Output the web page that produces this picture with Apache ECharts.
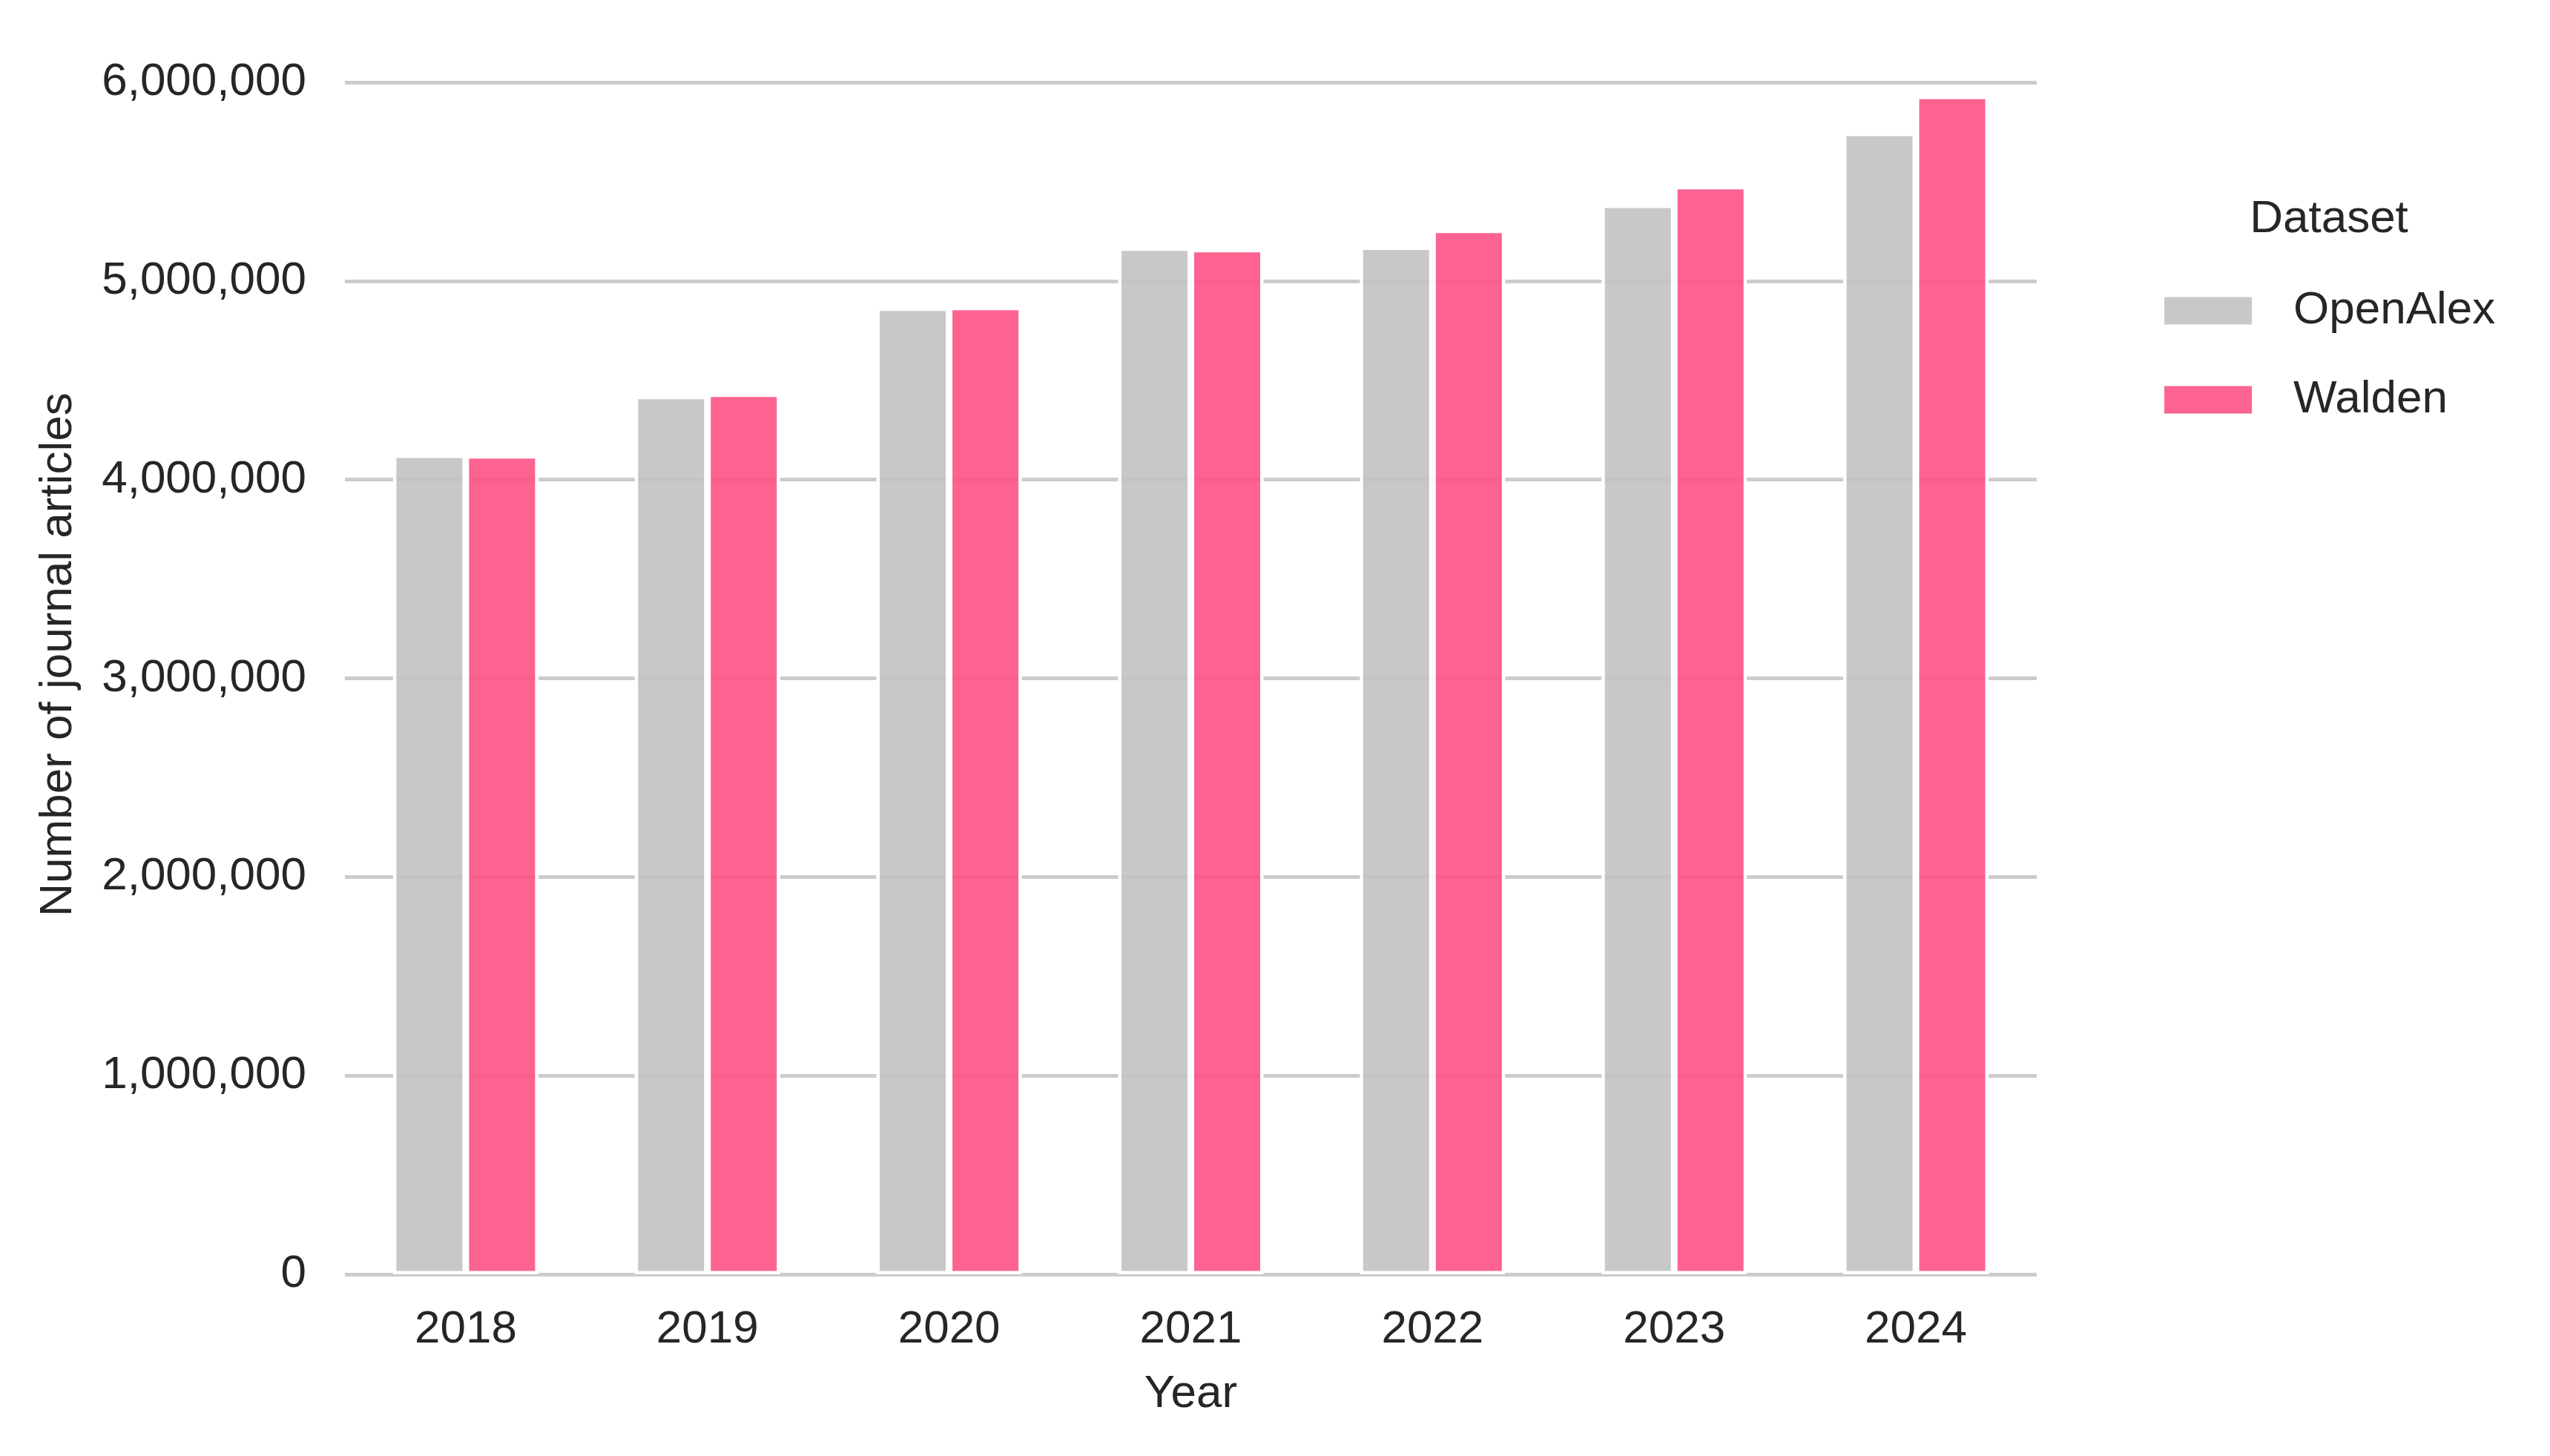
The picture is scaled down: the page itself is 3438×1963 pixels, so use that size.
<!DOCTYPE html>
<html>
<head>
<meta charset="utf-8">
<script src="https://cdn.jsdelivr.net/npm/echarts@6/dist/echarts.min.js"></script>
<style>
html,body{margin:0;padding:0;background:#fff;}
#chart{width:3438px;height:1963px;}
</style>
</head>
<body>
<div id="chart"></div>
<script>
const years = ['2018', '2019', '2020', '2021', '2022', '2023', '2024'];
const openAlex = [4126000, 4422000, 4866000, 5168000, 5173000, 5384000, 5746000];
const walden = [4123000, 4433000, 4870000, 5161000, 5258000, 5478000, 5932000];
const seriesNames = ['OpenAlex', 'Walden'];
const yTicks = [0, 1000000, 2000000, 3000000, 4000000, 5000000, 6000000];

const FONT = '"Liberation Sans", Arial, sans-serif';
const TXT = '#262626';

const chart = echarts.init(document.getElementById('chart'), null, {renderer: 'canvas'});
chart.setOption({
  animation: false,
  backgroundColor: '#ffffff',
  grid: {left: 465, right: 692, top: 111, bottom: 245, containLabel: false},
  legend: {
    orient: 'vertical',
    left: 2918,
    top: 388,
    padding: 0,
    itemWidth: 118,
    itemHeight: 37,
    itemGap: 58,
    icon: 'rect',
    itemStyle: {borderWidth: 0},
    textStyle: {fontFamily: FONT, fontSize: 62, lineHeight: 62, color: TXT, padding: [0, 0, 0, 51]},
    data: seriesNames
  },
  graphic: [{
    type: 'text',
    x: 3140,
    y: 296,
    style: {text: 'Dataset', fontFamily: FONT, fontSize: 62, fill: TXT, textAlign: 'center', textVerticalAlign: 'middle'}
  }],
  xAxis: {
    type: 'category',
    data: years,
    name: 'Year',
    nameLocation: 'middle',
    nameGap: 131,
    nameTextStyle: {fontFamily: FONT, fontSize: 62, color: TXT, verticalAlign: 'top', lineHeight: 62},
    axisLine: {show: false},
    axisTick: {show: false},
    axisLabel: {fontFamily: FONT, fontSize: 62, color: TXT, margin: 44, lineHeight: 62},
    splitLine: {show: false}
  },
  yAxis: {
    type: 'value',
    min: yTicks[0],
    max: yTicks[yTicks.length - 1],
    interval: yTicks[1] - yTicks[0],
    name: 'Number of journal articles',
    nameLocation: 'middle',
    nameGap: 355,
    nameTextStyle: {fontFamily: FONT, fontSize: 62, color: TXT, lineHeight: 62, padding: [0, 0, 0, 64]},
    axisLine: {show: false},
    axisTick: {show: false},
    axisLabel: {fontFamily: FONT, fontSize: 62, color: TXT, margin: 52,
      formatter: v => v.toLocaleString('en-US')},
    splitLine: {show: true, lineStyle: {color: '#cccccc', width: 5}}
  },
  series: [
    {
      name: seriesNames[0], type: 'bar', data: openAlex,
      barWidth: 98, barGap: '0%',
      itemStyle: {color: 'rgba(194,194,194,0.9)', borderColor: '#ffffff', borderWidth: 4.5}
    },
    {
      name: seriesNames[1], type: 'bar', data: walden,
      barWidth: 98, barGap: '0%',
      itemStyle: {color: 'rgba(252,82,133,0.9)', borderColor: '#ffffff', borderWidth: 4.5}
    }
  ]
});
</script>
</body>
</html>
